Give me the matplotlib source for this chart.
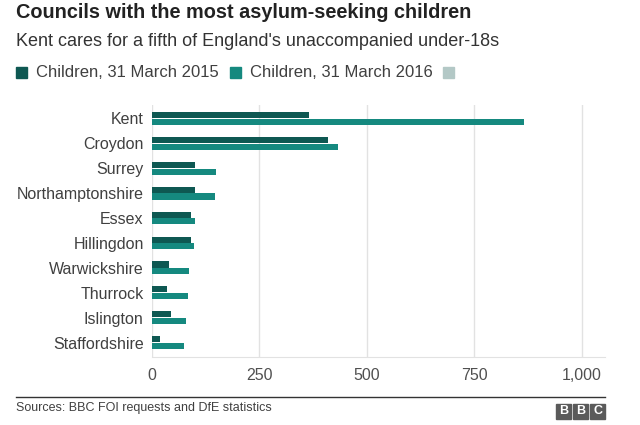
import numpy as np
import matplotlib
matplotlib.use("Agg")
import matplotlib.pyplot as plt
from matplotlib.patches import Rectangle
from matplotlib.lines import Line2D

plt.rcParams['font.family'] = ['Liberation Sans', 'DejaVu Sans']

councils = ["Kent", "Croydon", "Surrey", "Northamptonshire", "Essex",
            "Hillingdon", "Warwickshire", "Thurrock", "Islington", "Staffordshire"]
children_2015 = [365, 410, 100, 99, 90, 90, 40, 34, 45, 19]
children_2016 = [865, 432, 150, 147, 101, 98, 85, 84, 80, 74]
series_names = ["Children, 31 March 2015", "Children, 31 March 2016", ""]
xticks = [0, 250, 500, 750, 1000]

c15 = "#0e5852"
c16 = "#15897f"
c3 = "#b3c8c6"

W, H = 640, 425
fig = plt.figure(figsize=(6.4, 4.25), dpi=100)

def fx(x):
    return x / W

def fy(y):
    return 1 - y / H

ax = fig.add_axes([fx(152), fy(357), fx(605) - fx(152), fy(105) - fy(357)])

y = np.arange(len(councils))
ax.barh(y - 0.135, children_2015, height=0.245, color=c15, zorder=3)
ax.barh(y + 0.135, children_2016, height=0.245, color=c16, zorder=3)

ax.set_xlim(0, 1054)
ax.set_ylim(len(councils) - 1 + 0.58, -0.54)
ax.set_yticks(y)
ax.set_yticklabels(councils, fontsize=11.5, color="#404040")
ax.set_xticks(xticks)
ax.set_xticklabels([f"{v:,}" for v in xticks], fontsize=11.5, color="#505050")
ax.tick_params(axis='y', length=0, pad=6)
ax.tick_params(axis='x', length=0, pad=8)
ax.grid(axis='x', color="#e2e2e2", linewidth=1, zorder=0)
for s in ['top', 'right', 'left']:
    ax.spines[s].set_visible(False)
ax.spines['bottom'].set_color("#e2e2e2")

fig.text(fx(16), fy(12), "Councils with the most asylum-seeking children",
         fontsize=14.3, fontweight='bold', color="#222222", va='center')
fig.text(fx(16), fy(41), "Kent cares for a fifth of England's unaccompanied under-18s",
         fontsize=13, color="#333333", va='center')

# legend
sq_x = [16, 230, 443]
for sx, name, col in zip(sq_x, series_names, [c15, c16, c3]):
    fig.patches.append(Rectangle((fx(sx), fy(78)), fx(11), 11 / H,
                                 transform=fig.transFigure, color=col))
    if name:
        fig.text(fx(sx + 20), fy(72.5), name, fontsize=12, color="#404040", va='center')

# footer
fig.lines.append(Line2D([fx(16), fx(605)], [fy(397), fy(397)],
                        transform=fig.transFigure, color="#333333", linewidth=1))
fig.text(fx(16), fy(408), "Sources: BBC FOI requests and DfE statistics",
         fontsize=9, color="#404040", va='center')
for i, letter in enumerate("BBC"):
    bx = 556 + i * 17
    fig.patches.append(Rectangle((fx(bx), fy(419)), fx(15), 15 / H,
                                 transform=fig.transFigure, color="#5a5a5a"))
    fig.text(fx(bx + 7.5), fy(411.5), letter, fontsize=9, fontweight='bold',
             color="white", ha='center', va='center')

fig.savefig("out.png", dpi=100)
